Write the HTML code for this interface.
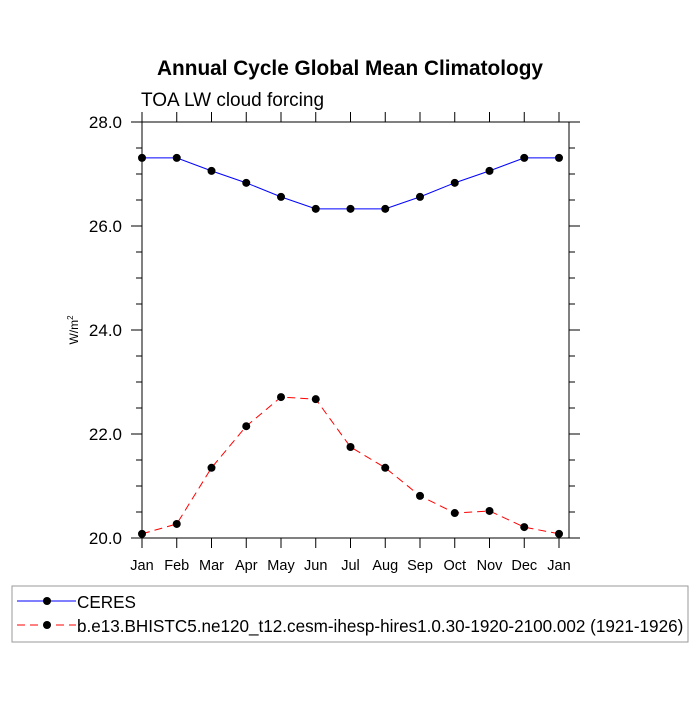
<!DOCTYPE html>
<html><head><meta charset="utf-8"><style>body{margin:0;background:#fff}svg text{font-family:"Liberation Sans",sans-serif}</style></head>
<body>
<svg id="chart" width="700" height="700" xmlns="http://www.w3.org/2000/svg">
<text x="350" y="75" text-anchor="middle" font-size="20.8" font-weight="bold">Annual Cycle Global Mean Climatology</text>
<text x="141" y="106" font-size="19">TOA LW cloud forcing</text>
<text transform="translate(78,330) rotate(-90)" text-anchor="middle" font-size="12">W/m<tspan dy="-5" font-size="8">2</tspan></text>
<g id="axes"></g><g id="series"></g>
<rect x="12" y="586" width="676" height="56" fill="none" stroke="#999"/>
<g>
<line x1="17" y1="601" x2="76" y2="601" stroke="blue"/><circle cx="47" cy="601" r="4"/>
<text x="77" y="608" font-size="17.1">CERES</text></g>
<g>
<line x1="17" y1="625" x2="76" y2="625" stroke="red" stroke-dasharray="8,5"/><circle cx="47" cy="625" r="4"/>
<text x="77" y="632" font-size="17.1">b.e13.BHISTC5.ne120_t12.cesm-ihesp-hires1.0.30-1920-2100.002 (1921-1926)</text></g>
</svg>
<script>
const months=["Jan","Feb","Mar","Apr","May","Jun","Jul","Aug","Sep","Oct","Nov","Dec","Jan"];
const ceres=[27.31,27.31,27.06,26.83,26.56,26.33,26.33,26.33,26.56,26.83,27.06,27.31,27.31];
const model=[20.08,20.27,21.35,22.15,22.71,22.67,21.75,21.35,20.81,20.48,20.52,20.21,20.08];
const yTicks=[20,22,24,26,28];
const NS="http://www.w3.org/2000/svg";
const L=142,R=569,T=122,B=538,ymin=20,ymax=28;
const xs=i=>L+i*(559-L)/12;
const ys=v=>B-(v-ymin)/(ymax-ymin)*(B-T);
function mk(tag,a,p){const e=document.createElementNS(NS,tag);for(const k in a)e.setAttribute(k,a[k]);p.appendChild(e);return e;}
const ax=document.getElementById('axes');
const fr=mk('rect',{x:L,y:T,width:R-L,height:B-T,fill:'none',stroke:'#000'},ax);


months.forEach((m,i)=>{const x=xs(i);
mk('line',{x1:x,y1:B,x2:x,y2:B+10,stroke:'#000'},ax);
mk('line',{x1:x,y1:T,x2:x,y2:T-10,stroke:'#000'},ax);
const t=mk('text',{x:x,y:B+32,'text-anchor':'middle','font-size':14.5},ax);t.textContent=m;

});
for(let v=ymin;v<=ymax+1e-9;v+=0.5){const y=ys(v);const maj=Math.abs(v/2-Math.round(v/2))<1e-9;const len=maj?11:6;
mk('line',{x1:L-len,y1:y,x2:L,y2:y,stroke:'#000'},ax);mk('line',{x1:R,y1:y,x2:R+len,y2:y,stroke:'#000'},ax);}
yTicks.forEach(v=>{const t=mk('text',{x:L-20,y:ys(v)+6,'text-anchor':'end','font-size':17},ax);t.textContent=v.toFixed(1);

});
const sg=document.getElementById('series');
function series(vals,col,dash,name){const g=mk('g',{},sg);


const a={points:vals.map((v,i)=>xs(i)+','+ys(v)).join(' '),fill:'none',stroke:col};if(dash)a['stroke-dasharray']=dash;mk('polyline',a,g);
vals.forEach((v,i)=>{const c=mk('circle',{cx:xs(i),cy:ys(v),r:4},g);

});}
series(ceres,'blue',null,'ceres-line');
series(model,'red','8,5','model-line');
</script>
</body></html>
